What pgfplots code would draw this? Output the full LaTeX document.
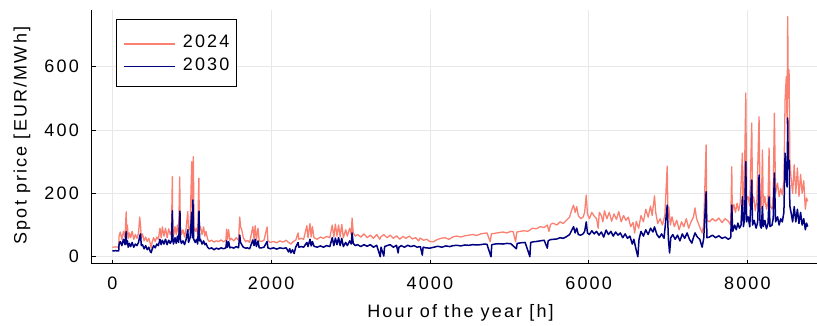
\documentclass[border=0pt]{standalone}
\usepackage{fontspec}
\setmainfont[LetterSpace=12]{Liberation Sans}
\usepackage{pgfplots}
\pgfplotsset{compat=1.18}
\definecolor{salmon}{HTML}{FA8072}
\definecolor{navyc}{HTML}{000080}
\definecolor{gridc}{HTML}{E8E8E8}
\begin{document}
\begin{tikzpicture}[font=\fontsize{18bp}{21bp}\selectfont]
\begin{axis}[
  scale only axis, width=725.3bp, height=253.7bp,
  xmin=-260, xmax=8877, ymin=-22.1, ymax=779,
  axis x line*=bottom, axis y line*=left,
  axis line style={black, line width=0.9bp},
  xtick={0,2000,4000,6000,8000}, ytick={0,200,400,600},
  tick align=inside, major tick length=4bp,
  tick style={black, line width=0.7bp},
  grid=major, major grid style={gridc, line width=0.6bp},
  /pgf/number format/assume math mode=true,
  /pgf/number format/1000 sep={},
  tick label style={font=\fontsize{18bp}{21bp}\selectfont},
  xticklabel style={inner sep=0pt, yshift=-13bp},
  yticklabel style={inner sep=0pt, xshift=-12.7bp},
  xlabel={Hour of the year [h]}, ylabel={Spot price [EUR/MWh]},
  xlabel style={at={(axis description cs:0.5085,-0.195)}, anchor=center, inner sep=0pt},
  ylabel style={at={(axis description cs:-0.0961,0.505)}, anchor=center, inner sep=0pt},
  legend style={at={(axis description cs:0.0335,0.9657)}, anchor=north west,
    draw=black, line width=0.8bp, inner xsep=7bp, inner ysep=16bp,
    font=\fontsize{18bp}{21bp}\selectfont, row sep=10bp,
    nodes={inner sep=0pt, text depth=0pt}},
  legend image code/.code={\draw[#1, line width=1.4bp] (0bp,-2.7bp) -- (51bp,-2.7bp); \path (58bp,-2.7bp);},
  legend cell align=left,
  every axis plot/.append style={line join=round},
]
\addplot[salmon, line width=1.3bp] coordinates {
(1,30)(40,31)(80,30)(85,65)(100,78)(120,55)(140,80)(160,60)(170,120)(175,142)(180,70)(190,100)(200,58)(215,75)(230,60)(250,80)(270,55)(290,70)(310,58)(330,75)(345,125)(355,100)(365,60)(380,72)(400,50)(420,62)(440,48)(460,58)(480,40)(490,27)(500,45)(520,60)(540,48)(560,62)(580,55)(600,90)(615,60)(630,94)(650,65)(670,90)(690,60)(710,88)(730,70)(745,80)(756,253)(760,90)(770,65)(790,95)(805,70)(820,100)(835,75)(849,252)(855,95)(870,70)(890,85)(910,62)(930,90)(950,143)(960,80)(980,95)(1000,300)(1008,110)(1020,316)(1030,95)(1045,80)(1060,90)(1075,70)(1090,248)(1097,85)(1110,95)(1130,70)(1150,94)(1165,65)(1180,80)(1200,55)(1220,48)(1250,52)(1280,46)(1310,50)(1340,48)(1370,53)(1400,47)(1430,52)(1440,87)(1450,55)(1465,85)(1480,52)(1500,58)(1530,50)(1560,60)(1590,52)(1605,125)(1615,95)(1630,85)(1650,60)(1680,47)(1700,52)(1730,45)(1770,95)(1785,55)(1800,98)(1815,52)(1835,90)(1850,50)(1880,48)(1910,52)(1950,94)(1960,50)(1990,45)(2030,48)(2070,44)(2110,50)(2150,46)(2190,52)(2220,45)(2250,40)(2280,48)(2310,52)(2340,75)(2350,55)(2380,58)(2410,55)(2450,98)(2465,60)(2490,105)(2505,62)(2520,95)(2540,60)(2580,55)(2620,62)(2660,58)(2700,64)(2740,60)(2770,100)(2790,62)(2810,103)(2830,65)(2850,100)(2870,62)(2890,102)(2910,60)(2940,85)(2960,65)(2990,90)(3010,70)(3020,122)(3035,75)(3060,65)(3090,70)(3130,62)(3170,72)(3210,60)(3250,68)(3290,58)(3330,70)(3370,55)(3380,62)(3420,70)(3460,60)(3500,68)(3540,58)(3580,66)(3620,55)(3660,64)(3700,58)(3740,65)(3780,56)(3820,60)(3860,50)(3877,59)(3920,52)(3960,55)(4000,48)(4045,47)(4090,54)(4140,58)(4190,60)(4240,55)(4295,63)(4340,65)(4390,62)(4440,66)(4490,68)(4540,70)(4590,67)(4640,72)(4690,74)(4720,75)(4760,47)(4775,72)(4820,74)(4870,76)(4920,78)(4970,75)(5020,80)(5050,79)(5080,47)(5095,78)(5140,80)(5190,82)(5230,80)(5260,84)(5290,90)(5340,88)(5390,95)(5440,92)(5480,100)(5500,80)(5520,102)(5550,106)(5600,100)(5640,110)(5680,105)(5725,116)(5760,125)(5790,150)(5810,163)(5830,140)(5850,158)(5870,130)(5900,120)(5930,125)(5950,140)(5970,195)(5985,135)(6010,120)(6040,140)(6070,128)(6100,120)(6120,90)(6135,140)(6160,130)(6180,110)(6200,145)(6230,120)(6260,140)(6290,112)(6320,135)(6350,118)(6380,142)(6410,110)(6440,130)(6470,115)(6500,125)(6530,95)(6560,108)(6580,75)(6600,112)(6630,90)(6660,130)(6690,110)(6720,150)(6750,125)(6780,160)(6800,130)(6830,192)(6845,140)(6870,105)(6900,120)(6930,100)(6960,130)(6990,286)(7000,120)(7010,157)(7030,100)(7050,126)(7080,95)(7110,115)(7140,85)(7170,110)(7200,95)(7230,120)(7260,90)(7290,110)(7320,125)(7340,154)(7360,120)(7390,100)(7430,75)(7450,100)(7480,353)(7490,115)(7520,110)(7560,120)(7600,112)(7640,122)(7680,108)(7720,120)(7760,112)(7790,100)(7803,284)(7810,140)(7830,165)(7850,140)(7870,169)(7890,145)(7910,170)(7937,327)(7945,160)(7960,200)(7980,517)(7990,180)(8010,189)(8030,160)(8055,422)(8065,170)(8080,189)(8100,145)(8120,180)(8147,442)(8160,170)(8175,150)(8190,337)(8200,160)(8220,190)(8240,150)(8260,175)(8273,343)(8285,160)(8310,150)(8325,190)(8340,453)(8355,200)(8380,232)(8400,190)(8420,215)(8440,195)(8460,240)(8475,495)(8490,568)(8500,420)(8508,758)(8515,500)(8525,590)(8535,300)(8550,250)(8570,200)(8590,290)(8610,200)(8630,280)(8650,190)(8670,260)(8690,200)(8710,240)(8730,150)(8745,185)(8760,175)
};
\addlegendentry{2024}
\addplot[navyc, line width=1.5bp] coordinates {
(1,18)(40,19)(80,18)(85,40)(100,48)(120,35)(140,55)(160,38)(170,70)(175,79)(180,40)(190,50)(200,30)(215,42)(230,32)(250,45)(270,30)(290,40)(310,35)(330,45)(345,65)(355,72)(365,35)(380,38)(400,25)(420,35)(440,22)(460,30)(480,15)(490,13)(500,22)(520,35)(540,28)(560,40)(580,35)(600,55)(615,38)(630,52)(650,40)(670,55)(690,38)(710,52)(730,42)(745,50)(756,145)(762,55)(770,40)(790,60)(805,42)(820,65)(835,45)(852,144)(858,55)(870,42)(890,50)(910,38)(930,55)(950,85)(960,45)(980,60)(1000,140)(1008,60)(1015,179)(1025,55)(1045,45)(1060,55)(1075,40)(1092,144)(1100,50)(1110,55)(1130,40)(1150,50)(1165,38)(1180,42)(1200,30)(1220,25)(1250,28)(1280,22)(1310,27)(1340,24)(1370,28)(1400,25)(1430,28)(1440,50)(1450,30)(1465,48)(1480,28)(1500,30)(1530,27)(1560,32)(1590,28)(1605,68)(1615,45)(1630,38)(1650,30)(1680,27)(1700,28)(1730,25)(1770,53)(1785,35)(1800,55)(1815,32)(1835,50)(1850,28)(1880,28)(1910,30)(1950,48)(1960,28)(1990,25)(2030,28)(2070,24)(2110,28)(2150,26)(2190,28)(2220,15)(2235,25)(2250,12)(2270,22)(2290,10)(2310,30)(2340,45)(2350,30)(2380,32)(2410,30)(2450,45)(2465,32)(2490,55)(2505,34)(2520,48)(2540,33)(2580,30)(2620,34)(2660,30)(2700,35)(2740,32)(2770,60)(2790,35)(2810,59)(2830,38)(2850,60)(2870,35)(2890,58)(2910,32)(2940,45)(2960,35)(2990,50)(3010,40)(3020,75)(3035,42)(3060,35)(3090,38)(3130,32)(3170,38)(3210,33)(3250,38)(3290,30)(3330,36)(3375,0)(3385,30)(3420,2)(3430,32)(3460,35)(3500,38)(3540,30)(3580,36)(3600,12)(3610,30)(3640,35)(3680,30)(3720,36)(3760,32)(3800,35)(3840,30)(3880,32)(3905,5)(3915,30)(3950,28)(4000,27)(4050,30)(4100,33)(4150,30)(4200,34)(4250,32)(4295,35)(4340,36)(4390,34)(4440,37)(4490,36)(4540,38)(4590,37)(4640,38)(4690,40)(4720,39)(4770,0)(4780,38)(4820,40)(4870,41)(4920,40)(4970,42)(5020,41)(5090,25)(5100,42)(5150,44)(5200,45)(5260,0)(5270,45)(5300,47)(5340,48)(5390,50)(5440,52)(5480,27)(5490,50)(5520,54)(5560,55)(5600,56)(5640,60)(5680,58)(5720,63)(5760,70)(5790,85)(5810,95)(5830,75)(5850,90)(5870,70)(5900,68)(5930,72)(5950,80)(5970,110)(5985,75)(6010,70)(6040,82)(6070,72)(6100,80)(6130,68)(6160,78)(6190,62)(6220,84)(6250,70)(6280,80)(6310,65)(6340,78)(6370,68)(6400,75)(6430,60)(6460,72)(6490,58)(6520,65)(6550,40)(6570,55)(6600,20)(6620,0)(6635,55)(6660,80)(6690,65)(6720,85)(6750,70)(6780,90)(6810,78)(6830,94)(6860,70)(6890,60)(6920,72)(6950,58)(6990,163)(7005,55)(7020,12)(7035,60)(7060,70)(7090,55)(7120,68)(7150,50)(7180,72)(7210,58)(7240,75)(7270,55)(7300,43)(7320,60)(7340,75)(7370,62)(7400,55)(7430,30)(7450,58)(7480,205)(7490,60)(7520,62)(7560,68)(7600,60)(7640,66)(7680,58)(7720,62)(7760,55)(7790,60)(7803,163)(7815,80)(7840,100)(7860,85)(7880,106)(7900,90)(7920,100)(7937,189)(7950,95)(7965,120)(7980,300)(7990,110)(8010,126)(8030,94)(8055,242)(8065,100)(8085,115)(8110,90)(8130,110)(8147,258)(8160,100)(8175,90)(8190,158)(8200,95)(8220,115)(8240,88)(8260,105)(8273,189)(8285,95)(8310,100)(8325,120)(8340,264)(8355,110)(8380,126)(8400,100)(8420,120)(8440,110)(8460,140)(8475,327)(8490,250)(8500,220)(8508,438)(8515,290)(8525,305)(8535,160)(8550,140)(8570,110)(8590,158)(8610,110)(8630,150)(8650,105)(8670,140)(8690,100)(8710,120)(8730,85)(8745,106)(8760,95)
};
\addlegendentry{2030}
\end{axis}
\pgfresetboundingbox
\path[use as bounding box] (current axis.south west) ++(-91.7bp,-62.3bp) rectangle ++(817bp,326bp);
\end{tikzpicture}
\end{document}
